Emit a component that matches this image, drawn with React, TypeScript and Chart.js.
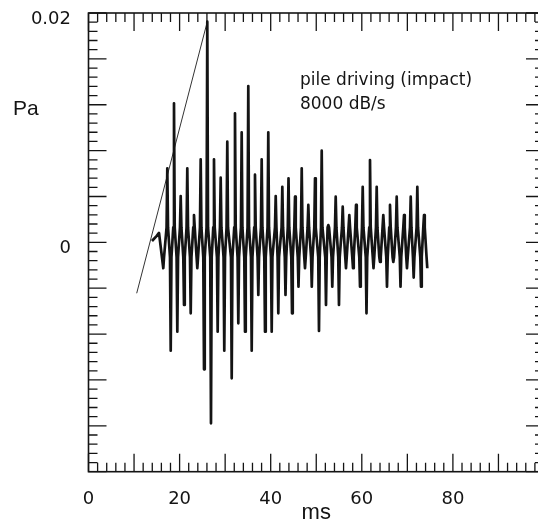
import { useEffect, useRef } from 'react';
import { Chart, registerables } from 'chart.js';

Chart.register(...registerables);

// waveform sample times (ms) and pressures (Pa):
// narrow spikes (tip) rising from a small centre oscillation (about ±0.0013 Pa)
const timeMs = [
  13.94, 14.93, 15.48,
  16.42, 16.58, 17.14, 17.3, 17.46, 17.89, 18.05, 18.21, 18.61, 18.77, 18.93, 19.34,
  19.5, 19.66, 20.08, 20.24, 20.4, 20.81, 20.97, 21.13, 21.53, 21.69, 21.85, 22.28,
  22.44, 22.6, 23.0, 23.16, 23.32, 23.73, 23.89, 24.05, 24.47, 24.63, 24.79, 25.2,
  25.36, 25.52, 25.92, 26.08, 26.24, 26.73, 26.89, 27.05, 27.39, 27.55, 27.71, 28.2,
  28.36, 28.52, 28.86, 29.02, 29.18, 29.65, 29.81, 29.97, 30.31, 30.47, 30.63, 31.28,
  31.44, 31.6, 32.0, 32.16, 32.32, 32.73, 32.89, 33.05, 33.47, 33.63, 33.79, 34.2,
  34.36, 34.52, 34.92, 35.08, 35.24, 35.67, 35.83, 35.99, 36.39, 36.55, 36.71, 37.12,
  37.28, 37.44, 37.86, 38.02, 38.18, 38.59, 38.75, 38.91, 39.31, 39.47, 39.63, 40.06,
  40.22, 40.38, 40.94, 41.1, 41.26, 41.51, 41.67, 41.83, 42.39, 42.55, 42.71, 43.09,
  43.25, 43.41, 43.75, 43.91, 44.07, 44.52, 44.68, 44.84, 45.18, 45.34, 45.5, 45.94,
  46.1, 46.26, 46.65, 46.81, 46.97, 47.37, 47.53, 47.69, 48.1, 48.26, 48.42, 48.86,
  49.02, 49.18, 49.57, 49.73, 49.89, 50.44, 50.6, 50.76, 51.04, 51.2, 51.36, 51.98,
  52.14, 52.3, 52.49, 52.65, 52.81, 53.36, 53.52, 53.68, 54.11, 54.27, 54.43, 54.83,
  54.99, 55.15, 55.65, 55.81, 55.97, 56.37, 56.53, 56.69, 57.1, 57.26, 57.42, 57.91,
  58.07, 58.23, 58.57, 58.73, 58.89, 59.45, 59.61, 59.77, 60.04, 60.2, 60.36, 60.87,
  61.03, 61.19, 61.64, 61.8, 61.96, 62.41, 62.57, 62.73, 63.11, 63.27, 63.43, 63.84,
  64.0, 64.16, 64.56, 64.72, 64.88, 65.37, 65.53, 65.69, 66.03, 66.19, 66.35, 66.76,
  66.92, 67.08, 67.5, 67.66, 67.82, 68.34, 68.5, 68.66, 69.11, 69.27, 69.43, 69.76,
  69.92, 70.08, 70.58, 70.74, 70.9, 71.23, 71.39, 71.55, 72.03, 72.19, 72.35, 72.84,
  73.0, 73.16, 73.5, 73.66, 73.82, 74.22, 74.38,
];
const pressurePa = [
  0.00012, 0.00055, 0.00082,
  -0.00226, -0.0013, 0.0013, 0.00646, 0.0013, -0.0013, -0.00945, -0.0013, 0.0013, 0.01213, 0.0013, -0.0013,
  -0.00779, -0.0013, 0.0013, 0.00404, 0.0013, -0.0013, -0.00546, -0.0013, 0.0013, 0.00646, 0.0013, -0.0013,
  -0.00619, -0.0013, 0.0013, 0.00238, 0.0013, -0.0013, -0.00226, -0.0013, 0.0013, 0.00724, 0.0013, -0.0013,
  -0.01107, -0.0013, 0.0013, 0.01924, 0.0013, -0.0013, -0.01578, -0.0013, 0.0013, 0.00724, 0.0013, -0.0013,
  -0.00779, -0.0013, 0.0013, 0.00564, 0.0013, -0.0013, -0.00945, -0.0013, 0.0013, 0.00878, 0.0013, -0.0013,
  -0.01186, -0.0013, 0.0013, 0.01125, 0.0013, -0.0013, -0.00706, -0.0013, 0.0013, 0.0096, 0.0013, -0.0013,
  -0.00779, -0.0013, 0.0013, 0.01363, 0.0013, -0.0013, -0.00945, -0.0013, 0.0013, 0.0059, 0.0013, -0.0013,
  -0.00459, -0.0013, 0.0013, 0.00724, 0.0013, -0.0013, -0.00779, -0.0013, 0.0013, 0.0096, 0.0013, -0.0013,
  -0.00779, -0.0013, 0.0013, 0.00404, 0.0013, -0.0013, -0.00619, -0.0013, 0.0013, 0.00485, 0.0013, -0.0013,
  -0.00459, -0.0013, 0.0013, 0.00558, 0.0013, -0.0013, -0.00619, -0.0013, 0.0013, 0.00398, 0.0013, -0.0013,
  -0.00387, -0.0013, 0.0013, 0.00646, 0.0013, -0.0013, -0.00226, -0.0013, 0.0013, 0.00326, 0.0013, -0.0013,
  -0.00387, -0.0013, 0.0013, 0.00558, 0.0013, -0.0013, -0.00773, -0.0013, 0.0013, 0.00799, 0.0013, -0.0013,
  -0.00546, -0.0013, 0.0013, 0.00151, 0.0013, -0.0013, -0.00387, -0.0013, 0.0013, 0.00398, 0.0013, -0.0013,
  -0.00546, -0.0013, 0.0013, 0.00311, 0.0013, -0.0013, -0.00226, -0.0013, 0.0013, 0.00238, 0.0013, -0.0013,
  -0.00226, -0.0013, 0.0013, 0.00326, 0.0013, -0.0013, -0.00387, -0.0013, 0.0013, 0.00485, 0.0013, -0.0013,
  -0.00619, -0.0013, 0.0013, 0.00718, 0.0013, -0.0013, -0.00226, -0.0013, 0.0013, 0.00485, 0.0013, -0.0013,
  -0.00171, -0.0013, 0.0013, 0.00238, 0.0013, -0.0013, -0.00387, -0.0013, 0.0013, 0.00326, 0.0013, -0.0013,
  -0.00171, -0.0013, 0.0013, 0.00398, 0.0013, -0.0013, -0.00387, -0.0013, 0.0013, 0.00238, 0.0013, -0.0013,
  -0.00226, -0.0013, 0.0013, 0.00398, 0.0013, -0.0013, -0.00307, -0.0013, 0.0013, 0.00485, 0.0013, -0.0013,
  -0.00387, -0.0013, 0.0013, 0.00238, 0.0013, -0.0013, -0.00226,
];

// straight rise line (8000 dB/s)
const riseTimeMs = [10.58, 26.08];
const risePressurePa = [-0.00444, 0.01924];

// axes
const xMin = 0;
const xMax = 100;
const xLabelStep = 20;
const xMajorStep = 10;
const xMinorStep = 2;
const xLabelHidden = [100];
const yMin = -0.02;
const yMax = 0.02;
const yMajorStep = 0.004;
const yMinorStep = 0.0008;
const yLabelValues = [0, 0.02];
const yLabelTexts = ['0', '0.02'];

// text
const yUnit = 'Pa';
const xUnit = 'ms';
const noteTexts = ['pile driving (impact)', '8000 dB/s'];
const noteXms = [46.43, 46.43];
const notePa = [0.01372, 0.01167];

const INK = '#141414';

const framePlugin = {
  id: 'frameTicks',
  afterDatasetsDraw(chart: any) {
    const { ctx, chartArea } = chart;
    const xs = chart.scales.x;
    const ys = chart.scales.y;
    const { left, right, top, bottom } = chartArea;
    ctx.save();
    ctx.strokeStyle = INK;
    ctx.lineWidth = 1.6;
    ctx.strokeRect(left, top, right - left, bottom - top);
    ctx.lineWidth = 1.3;
    ctx.beginPath();
    const nx = Math.round((xMax - xMin) / xMinorStep);
    for (let i = 0; i <= nx; i++) {
      const v = xMin + i * xMinorStep;
      const major = Math.abs(v / xMajorStep - Math.round(v / xMajorStep)) < 1e-6;
      const len = major ? 18 : 9;
      const px = xs.getPixelForValue(v);
      ctx.moveTo(px, bottom);
      ctx.lineTo(px, bottom - len);
      ctx.moveTo(px, top);
      ctx.lineTo(px, top + len);
    }
    const ny = Math.round((yMax - yMin) / yMinorStep);
    for (let i = 0; i <= ny; i++) {
      const v = yMin + i * yMinorStep;
      const major = Math.abs(v / yMajorStep - Math.round(v / yMajorStep)) < 1e-6;
      const len = major ? 18 : 9;
      const py = ys.getPixelForValue(v);
      ctx.moveTo(left, py);
      ctx.lineTo(left + len, py);
      ctx.moveTo(right, py);
      ctx.lineTo(right - len, py);
    }
    ctx.stroke();

    ctx.fillStyle = INK;
    ctx.textBaseline = 'alphabetic';
    ctx.textAlign = 'left';
    ctx.font = '17px "DejaVu Sans"';
    for (let i = 0; i < noteTexts.length; i++) {
      ctx.fillText(noteTexts[i], xs.getPixelForValue(noteXms[i]), ys.getPixelForValue(notePa[i]));
    }
    ctx.font = '21px "Liberation Sans"';
    ctx.fillText(yUnit, left - 75.5, ys.getPixelForValue(0.0111));
    ctx.restore();
  },
};

export default function App() {
  const ref = useRef<HTMLCanvasElement>(null);
  useEffect(() => {
    if (!ref.current) return;
    const chart = new Chart(ref.current, {
      type: 'line',
      data: {
        datasets: [
          {
            data: timeMs.map((t, i) => ({ x: t, y: pressurePa[i] })),
            borderColor: INK,
            borderWidth: 2.7,
            borderJoinStyle: 'round',
            pointRadius: 0,
            tension: 0,
            fill: false,
          },
          {
            data: riseTimeMs.map((t, i) => ({ x: t, y: risePressurePa[i] })),
            borderColor: '#333',
            borderWidth: 1,
            pointRadius: 0,
            fill: false,
          },
        ],
      },
      options: {
        animation: false,
        responsive: false,
        devicePixelRatio: 1,
        layout: { padding: { top: 13, right: 16, bottom: 0, left: 0 } },
        plugins: { legend: { display: false }, tooltip: { enabled: false } },
        scales: {
          x: {
            type: 'linear',
            min: xMin,
            max: xMax,
            grid: { display: false, drawTicks: false },
            border: { display: false },
            ticks: {
              stepSize: xLabelStep,
              autoSkip: false,
              maxRotation: 0,
              padding: 16.5,
              color: INK,
              font: { family: '"DejaVu Sans"', size: 18 },
              callback: (v: any) => (xLabelHidden.includes(Number(v)) ? '' : String(v)),
            },
            title: {
              display: true,
              text: xUnit,
              color: INK,
              font: { family: '"Liberation Sans"', size: 22, lineHeight: 1 },
              padding: { top: 0, bottom: 0 },
            },
            afterFit: (s: any) => {
              s.height = 52.3;
              s.paddingLeft = 0;
              s.paddingRight = 0;
            },
          },
          y: {
            type: 'linear',
            min: yMin,
            max: yMax,
            grid: { display: false, drawTicks: false },
            border: { display: false },
            ticks: {
              stepSize: yMajorStep,
              autoSkip: false,
              padding: 17.5,
              labelOffset: 6,
              color: INK,
              font: { family: '"DejaVu Sans"', size: 18 },
              callback: (v: any) => {
                const n = Number(v);
                for (let i = 0; i < yLabelValues.length; i++) {
                  if (Math.abs(n - yLabelValues[i]) < 1e-9) return yLabelTexts[i];
                }
                return '';
              },
            },
            afterFit: (s: any) => {
              s.width = 88.5;
              s.paddingTop = 0;
              s.paddingBottom = 0;
            },
          },
        },
      },
      plugins: [framePlugin],
    });
    return () => chart.destroy();
  }, []);

  return (
    <div style={{ position: 'fixed', left: 0, top: 0, width: 538, height: 524, overflow: 'hidden', background: '#fff' }}>
      <canvas ref={ref} width={560} height={524} style={{ display: 'block' }} />
    </div>
  );
}
